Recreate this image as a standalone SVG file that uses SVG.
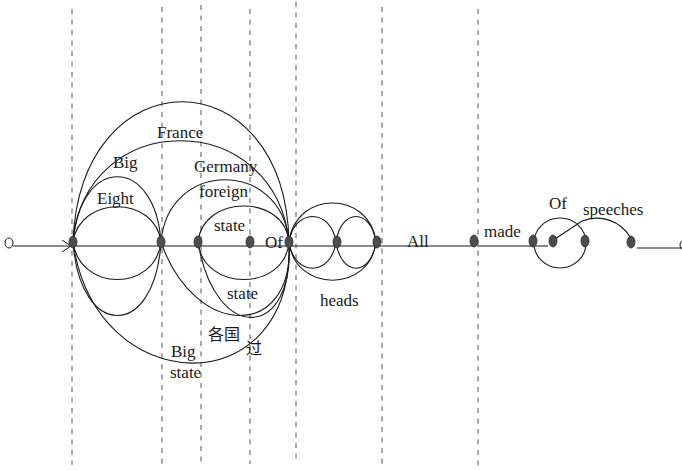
<svg xmlns="http://www.w3.org/2000/svg" width="682" height="470" viewBox="0 0 682 470">
<defs>
<style>
.grid{stroke:#555;stroke-width:1;stroke-dasharray:5,5.5;fill:none}
.edge{stroke:#1a1a1a;stroke-width:1.1;fill:none}
.node{fill:#4d4d4d;stroke:#2a2a2a;stroke-width:0.8}
.term{fill:none;stroke:#1a1a1a;stroke-width:1}
.lbl{font-family:"Liberation Serif","Noto Sans CJK SC",serif;font-size:17px;fill:#1a1a1a}
.cjk{font-family:"Noto Sans CJK SC","Liberation Serif",serif;font-size:16px;fill:#1a1a1a}
</style>
<marker id="open" viewBox="0 0 10 12" refX="9" refY="6" markerWidth="10" markerHeight="12" markerUnits="userSpaceOnUse" orient="auto">
<path d="M0,0 L9,6 L0,12" fill="none" stroke="#1a1a1a" stroke-width="1"/>
</marker>
</defs>
<rect width="682" height="470" fill="#fff"/>
<g id="gridlines">
<line class="grid" x1="72" y1="9" x2="72" y2="465"/>
<line class="grid" x1="162" y1="7" x2="162" y2="468"/>
<line class="grid" x1="201" y1="5" x2="201" y2="466"/>
<line class="grid" x1="250" y1="9" x2="250" y2="464"/>
<line class="grid" x1="296" y1="2" x2="296" y2="462"/>
<line class="grid" x1="382" y1="7" x2="382" y2="468"/>
<line class="grid" x1="478" y1="9" x2="478" y2="469"/>
</g>
<g id="connectors">
<path class="edge" d="M13,246 L71,246" marker-end="url(#open)"/>
<path class="edge" d="M73,246 L474,246"/>
<path class="edge" d="M477,246 L548,246"/>
<path class="edge" d="M637,248 L682,248"/>
<path class="edge" d="M73,242 C80,55 285,55 289,242"/>
<path class="edge" d="M73,242 C85,107 275,107 289,242"/>
<path class="edge" d="M73,242 C80,155 155,155 161,242"/>
<path class="edge" d="M73,242 C80,195 155,195 161,242"/>
<path class="edge" d="M161,242 C168,159 282,159 289,242"/>
<path class="edge" d="M198,242 C203,194 285,194 289,242"/>
<path class="edge" d="M73,242 C80,292 155,292 161,242"/>
<path class="edge" d="M73,242 C80,340 155,340 161,242"/>
<path class="edge" d="M73,242 C95,401 295,406 289,242"/>
<path class="edge" d="M198,242 C203,292 285,292 289,242"/>
<path class="edge" d="M198,242 C215,345 295,340 289,242"/>
<path class="edge" d="M161,242 C195,340 295,340 289,242"/>
<path class="edge" d="M289,242 C295,190 370,190 376,242"/>
<path class="edge" d="M289,242 C295,293 370,293 376,242"/>
<path class="edge" d="M289,242 C294,208 331,208 336,242"/>
<path class="edge" d="M289,242 C294,277 331,277 336,242"/>
<path class="edge" d="M336,242 C341,208 371,208 376,242"/>
<path class="edge" d="M336,242 C341,277 371,277 376,242"/>
<ellipse class="edge" cx="560" cy="243" rx="26" ry="25"/>
<path class="edge" d="M555,239 L582,221 C600,214 620,220 631,238"/>
</g>
<g id="labels">
<text class="lbl" x="157" y="138">France</text>
<text class="lbl" x="113" y="168">Big</text>
<text class="lbl" x="97" y="204">Eight</text>
<text class="lbl" x="194" y="172">Germany</text>
<text class="lbl" x="199" y="197">foreign</text>
<text class="lbl" x="214" y="231">state</text>
<text class="lbl" x="265" y="248">Of</text>
<text class="lbl" x="227" y="299">state</text>
<text class="cjk" x="208" y="340">各国</text>
<text class="cjk" x="246" y="354">过</text>
<text class="lbl" x="171" y="357">Big</text>
<text class="lbl" x="170" y="378">state</text>
<text class="lbl" x="320" y="306">heads</text>
<text class="lbl" x="407" y="247">All</text>
<text class="lbl" x="484" y="237">made</text>
<text class="lbl" x="549" y="209">Of</text>
<text class="lbl" x="583" y="215">speeches</text>
</g>
<g id="start"><ellipse class="term" cx="9" cy="243" rx="4" ry="5"/></g>
<g id="end"><ellipse class="term" cx="684" cy="245" rx="4" ry="5"/></g>
<g id="n1"><ellipse class="node" cx="73" cy="242" rx="4" ry="6"/></g>
<g id="n2"><ellipse class="node" cx="161" cy="242" rx="4" ry="6"/></g>
<g id="n3"><ellipse class="node" cx="198" cy="242" rx="4" ry="6"/></g>
<g id="n4"><ellipse class="node" cx="250" cy="242" rx="4" ry="6"/></g>
<g id="n5"><ellipse class="node" cx="289" cy="242" rx="4" ry="6"/></g>
<g id="n6"><ellipse class="node" cx="337" cy="242" rx="4" ry="6"/></g>
<g id="n7"><ellipse class="node" cx="377" cy="242" rx="4" ry="6"/></g>
<g id="n8"><ellipse class="node" cx="474" cy="241" rx="4" ry="6"/></g>
<g id="n9"><ellipse class="node" cx="533" cy="241" rx="4" ry="6"/></g>
<g id="n10"><ellipse class="node" cx="553" cy="241" rx="4" ry="6"/></g>
<g id="n11"><ellipse class="node" cx="585" cy="241" rx="4" ry="6"/></g>
<g id="n12"><ellipse class="node" cx="631" cy="242" rx="4" ry="6"/></g>
</svg>
